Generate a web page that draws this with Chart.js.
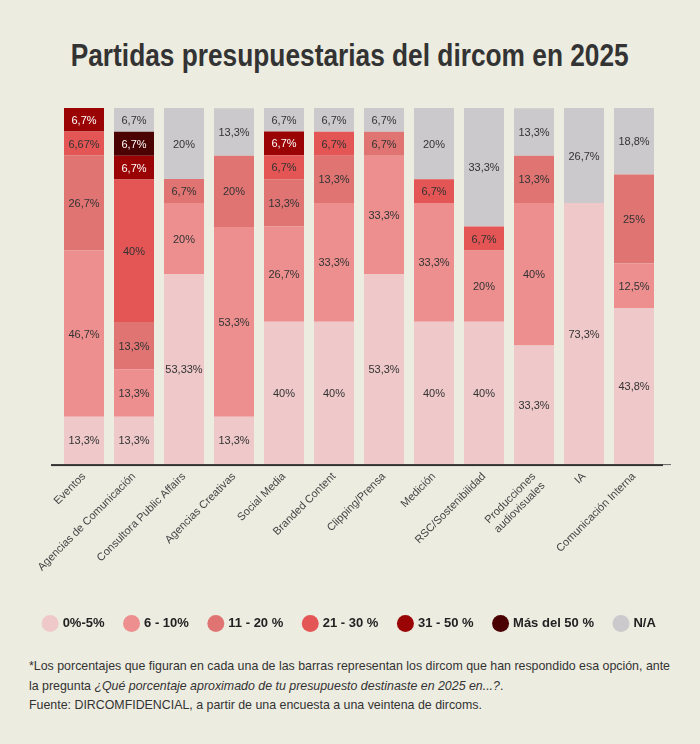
<!DOCTYPE html>
<html><head><meta charset="utf-8">
<script src="https://cdn.jsdelivr.net/npm/chart.js@4"></script>
<style>
html,body{margin:0;padding:0;background:#EDECE1;}
body{width:700px;height:744px;position:relative;overflow:hidden;font-family:"Liberation Sans",sans-serif;color:#333;}
#title{position:absolute;top:37px;left:0;width:700px;text-align:center;}
#title span{display:inline-block;white-space:nowrap;font-weight:bold;font-size:32px;color:#333;transform-origin:center;}
#wrap{position:absolute;left:0;top:95px;width:700px;height:545px;}
#note{position:absolute;left:29px;top:656px;font-size:13px;line-height:19.5px;color:#333;white-space:nowrap;transform-origin:left top;}
</style></head><body>
<div id="title"><span id="tt">Partidas presupuestarias del dircom en 2025</span></div>
<div id="wrap"><canvas id="c"></canvas></div>
<div id="note"><span id="l1">*Los porcentajes que figuran en cada una de las barras representan los dircom que han respondido esa opción, ante</span><br>la pregunta <i>¿Qué porcentaje aproximado de tu presupuesto destinaste en 2025 en...?</i>.<br>Fuente: DIRCOMFIDENCIAL, a partir de una encuesta a una veintena de dircoms.</div>
<script>
const categories = ["Eventos","Agencias de Comunicación","Consultora Public Affairs","Agencias Creativas","Social Media","Branded Content","Clipping/Prensa","Medición","RSC/Sostenibilidad",["Producciones","audiovisuales"],"IA","Comunicación Interna"];
const seriesNames = ["0%-5%","6 - 10%","11 - 20 %","21 - 30 %","31 - 50 %","Más del 50 %","N/A"];
const s0_5   = [13.3,13.3,53.33,13.3,40,40,53.3,40,40,33.3,73.3,43.8];
const s6_10  = [46.7,13.3,20,53.3,26.7,33.3,33.3,33.3,20,40,null,12.5];
const s11_20 = [26.7,13.3,6.7,20,13.3,13.3,6.7,null,null,13.3,null,25];
const s21_30 = [6.67,40,null,null,6.7,6.7,null,6.7,6.7,null,null,null];
const s31_50 = [6.7,6.7,null,null,6.7,null,null,null,null,null,null,null];
const sMas50 = [null,6.7,null,null,null,null,null,null,null,null,null,null];
const sNA    = [null,6.7,20,13.3,6.7,6.7,6.7,20,33.3,13.3,26.7,18.8];
const colors = ["#EFC8C9","#EE8F8F","#E07473","#E45555","#9A0405","#4A0203","#CBC9CB"];
const labelColors = ["#333","#333","#333","#333","#fff","#fff","#333"];
const allSeries = [s0_5,s6_10,s11_20,s21_30,s31_50,sMas50,sNA];

// fit title and note widths to the reference
(function(){
  const tt=document.getElementById('tt');
  tt.style.transform='scaleX('+(558/tt.getBoundingClientRect().width)+')';
  const l1=document.getElementById('l1');
  document.getElementById('note').style.transform='scaleX('+(641/l1.getBoundingClientRect().width)+')';
})();

const FONT='"Liberation Sans",sans-serif';
const valueLabels = {
  id:'valueLabels',
  afterDatasetsDraw(chart){
    const ctx = chart.ctx;
    ctx.save();
    ctx.font = '11px '+FONT;
    ctx.textAlign='center';ctx.textBaseline='middle';
    chart.data.datasets.forEach((ds,i)=>{
      const meta = chart.getDatasetMeta(i);
      meta.data.forEach((bar,j)=>{
        const v = ds.data[j];
        if(v==null) return;
        const p = bar.getProps(['x','y','base'],true);
        ctx.fillStyle = labelColors[i];
        ctx.fillText(String(v).replace('.',',')+'%', p.x, (p.y+p.base)/2+1);
      });
    });
    ctx.restore();
  }
};

const axisLine = {
  id:'axisLine',
  afterDatasetsDraw(chart){
    const {ctx, chartArea} = chart;
    ctx.save();
    ctx.fillStyle='#333';
    ctx.fillRect(chartArea.left-8, chartArea.bottom, chartArea.right-chartArea.left+12, 2);
    ctx.fillStyle='#666';
    ctx.fillRect(chartArea.right+4, chartArea.bottom, 8, 1);
    ctx.restore();
  }
};

new Chart(document.getElementById('c'),{
  type:'bar',
  data:{labels:categories,datasets:allSeries.map((d,i)=>({label:seriesNames[i],data:d,backgroundColor:colors[i],borderWidth:0,barPercentage:0.8,categoryPercentage:1}))},
  options:{
    responsive:true,maintainAspectRatio:false,animation:false,
    layout:{padding:{left:0,right:0,top:13,bottom:0}},
    scales:{
      x:{stacked:true,grid:{display:false,drawTicks:false},border:{display:false},
         ticks:{color:'#444',font:{family:FONT,size:11},maxRotation:45,minRotation:45,padding:6},
         afterFit(s){s.height+=7;}},
      y:{stacked:true,min:0,max:100,position:'left',grid:{display:false},border:{display:false},ticks:{display:false},
         afterFit(s){s.width=59;}},
      y2:{position:'right',min:0,max:100,grid:{display:false},border:{display:false},ticks:{display:false},
         afterFit(s){s.width=41;}}
    },
    plugins:{
      legend:{position:'bottom',labels:{usePointStyle:true,pointStyle:'circle',boxWidth:12,boxHeight:12,padding:21,color:'#222',font:{family:FONT,size:13,weight:'bold'}}},
      tooltip:{enabled:false}
    }
  },
  plugins:[valueLabels,axisLine]
});
</script>
</body></html>
